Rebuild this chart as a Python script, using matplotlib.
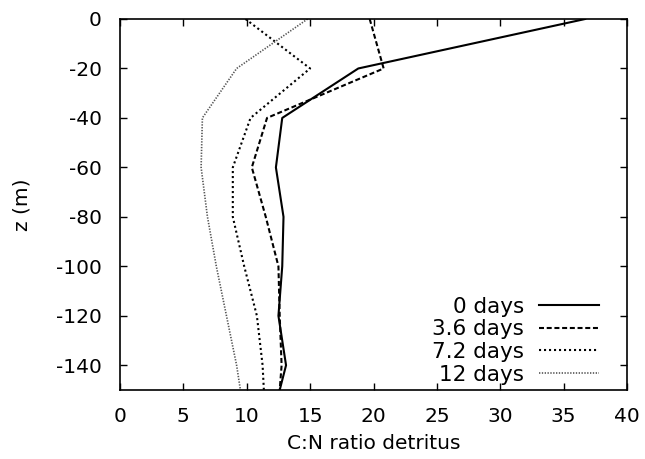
import matplotlib
matplotlib.use("Agg")
import matplotlib.pyplot as plt

plt.rcParams['font.family'] = ['DejaVu Sans']
plt.rcParams['axes.unicode_minus'] = False

z = [0, -20, -40, -60, -80, -100, -120, -140, -150]
cn_0 = [36.7, 18.8, 12.8, 12.3, 12.9, 12.8, 12.5, 13.1, 12.6]
cn_36 = [19.7, 20.8, 11.6, 10.4, 11.5, 12.5, 12.6, 12.75, 12.6]
cn_72 = [9.9, 15.0, 10.3, 8.9, 8.9, 9.8, 10.8, 11.25, 11.35]
cn_12 = [14.8, 9.2, 6.5, 6.4, 6.9, 7.6, 8.4, 9.2, 9.5]
labels = ["0 days", "3.6 days", "7.2 days", "12 days"]

fig = plt.figure(figsize=(6.45, 4.59), dpi=100)
ax = fig.add_axes([120/645, 1-390/459, (627-120)/645, (390-19)/459])

ax.plot(cn_0, z, color='black', lw=1.5, ls='-', label=labels[0])
ax.plot(cn_36, z, color='black', lw=1.5, ls=(0, (2.4, 1.3)), label=labels[1])
ax.plot(cn_72, z, color='black', lw=1.5, ls=(0, (1, 1.4)), label=labels[2])
ax.plot(cn_12, z, color='#555555', lw=1.2, ls=(0, (0.8, 0.9)), label=labels[3])

ax.set_xlim(0, 40)
ax.set_ylim(-150, 0)
ax.set_xticks(range(0, 41, 5))
ax.set_yticks(range(-140, 1, 20))
ax.tick_params(direction='in', top=True, right=True, labelsize=14.5, length=5, width=1)
ax.tick_params(axis='x', pad=12)
ax.tick_params(axis='y', pad=13)
for s in ax.spines.values():
    s.set_linewidth(1.2)
ax.set_xlabel("C:N ratio detritus", fontsize=14.5, labelpad=6)
ax.set_ylabel("z (m)", fontsize=14.5, labelpad=18)

leg = ax.legend(loc='lower right', frameon=False, markerfirst=False, fontsize=15.5,
                handlelength=2.8, handletextpad=0.7, labelspacing=0.12,
                bbox_to_anchor=(0.975, -0.026), borderaxespad=0.3)

fig.savefig("out.png", dpi=100)
